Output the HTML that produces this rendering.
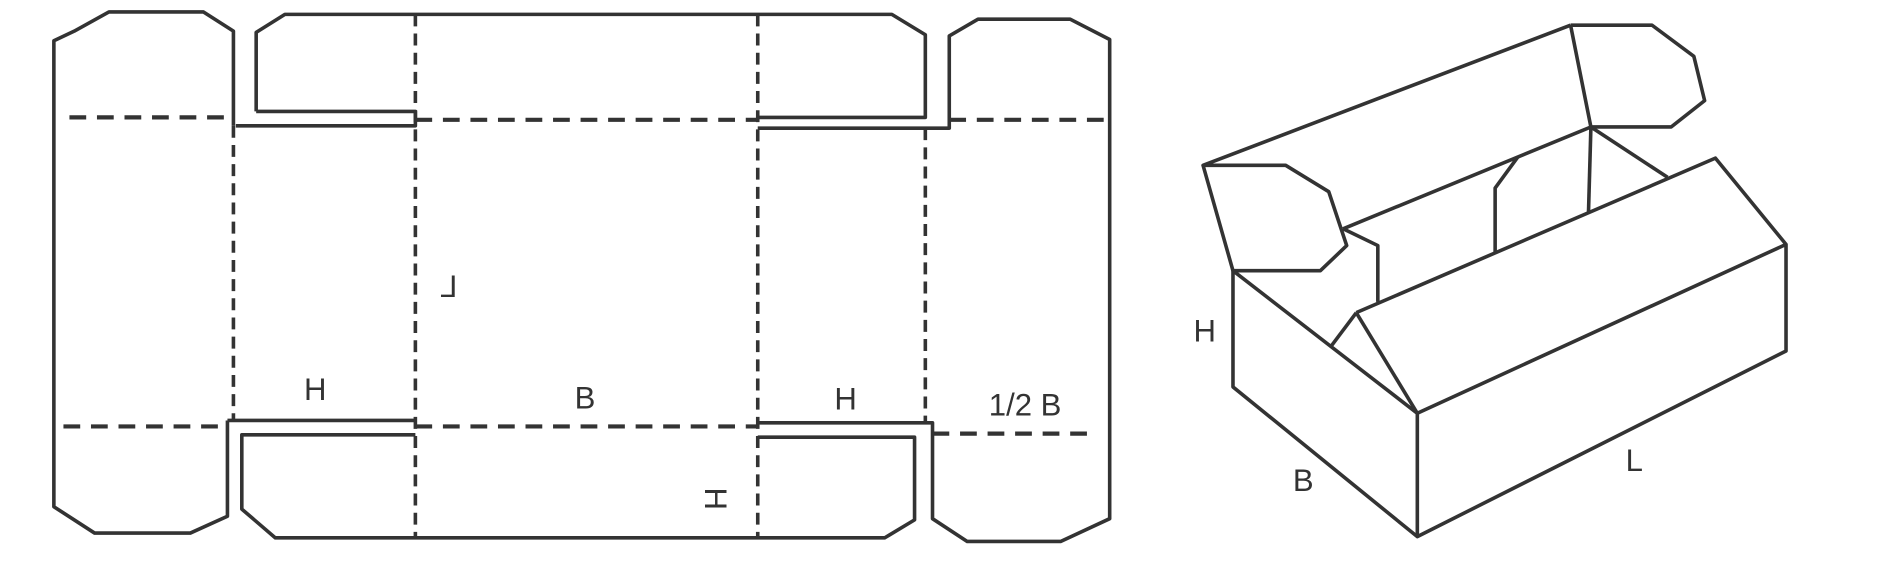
<!DOCTYPE html>
<html><head><style>
html,body{margin:0;padding:0;background:#fff;}
svg{display:block;}
text{font-family:"Liberation Sans",sans-serif;font-size:26px;fill:#333;}
</style></head><body>
<svg width="1877" height="569" viewBox="0 0 1568 475" preserveAspectRatio="none" xmlns="http://www.w3.org/2000/svg">
<g fill="none" stroke="#333" stroke-width="3" stroke-linejoin="round">
<polyline points="195,105 195,26 170,10 91,10 62,26 45,34 45,423 79,445 159,445 190,431 190,351"/>
<polyline points="214,93 214,27 238,12 745,12 773,29 773,98 633,98"/>
<polyline points="214,93 347,93 347,105 197,105"/>
<polyline points="633,107 793,107 793,30 817,16 894,16 927,33 927,433 886,452 808,452 779,433 779,353 633,353"/>
<line x1="190" y1="351" x2="347" y2="351"/>
<polyline points="347,363 202,363 202,425 230,449 739,449 764,434 764,365 633,365"/>
</g>
<g fill="none" stroke="#333" stroke-width="3.5" stroke-dasharray="14,9">
<line x1="58" y1="98" x2="195" y2="98"/>
<line x1="347" y1="100" x2="633" y2="100"/>
<line x1="793" y1="100" x2="927" y2="100"/>
<line x1="53" y1="356" x2="190" y2="356"/>
<line x1="347" y1="356" x2="633" y2="356"/>
<line x1="779" y1="362" x2="917" y2="362"/>
</g>
<g fill="none" stroke="#333" stroke-width="3" stroke-dasharray="10,6">
<line x1="347" y1="12" x2="347" y2="449"/>
<line x1="633" y1="12" x2="633" y2="449"/>
<line x1="195" y1="105" x2="195" y2="351"/>
<line x1="773" y1="107" x2="773" y2="353"/>
</g>
<text x="254" y="334">H</text>
<text x="480" y="341">B</text>
<text x="697" y="342">H</text>
<text x="826" y="347">1/2 B</text>
<text transform="translate(372,238) scale(-1,1)" x="-10" y="10">L</text>
<text transform="translate(598,417) rotate(90)" x="-10" y="9">H</text>
<g fill="none" stroke="#333" stroke-width="3" stroke-linejoin="round">
<line x1="1005" y1="138" x2="1312" y2="21"/>
<polyline points="1312,21 1380,21 1415,47 1424,84 1396,106 1329,106 1312,21"/>
<line x1="1329" y1="106" x2="1122" y2="191"/>
<polyline points="1268,131 1249,157 1249,211"/>
<line x1="1329" y1="106" x2="1393" y2="148"/>
<line x1="1329" y1="106" x2="1327" y2="177"/>
<polygon points="1005,138 1074,138 1110,160 1125,205 1103,226 1030,226"/>
<polyline points="1122,191 1151,205 1151,252"/>
<polyline points="1133,261 1433,132 1492,204 1492,293 1184,448 1030,323 1030,226 1184,345 1492,204"/>
<line x1="1184" y1="345" x2="1184" y2="448"/>
<line x1="1133" y1="261" x2="1184" y2="345"/>
<line x1="1133" y1="261" x2="1112" y2="289"/>
</g>
<text x="997" y="285">H</text>
<text x="1080" y="410">B</text>
<text x="1358" y="393">L</text>
</svg>
</body></html>
